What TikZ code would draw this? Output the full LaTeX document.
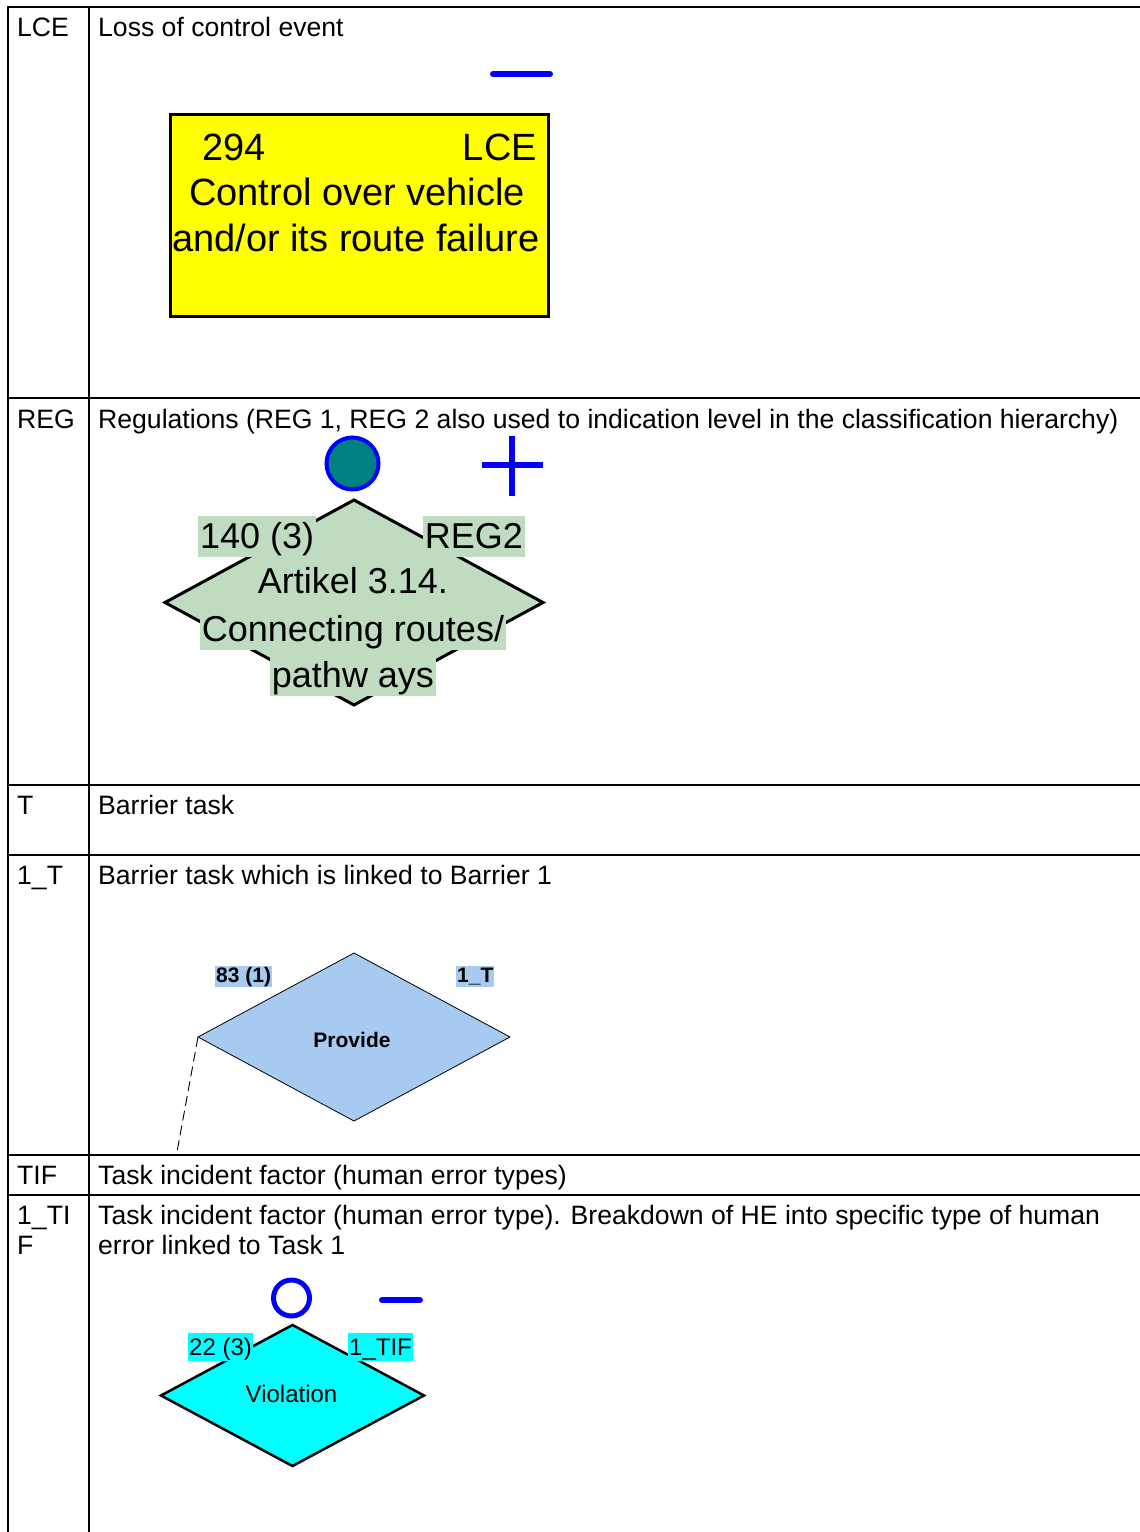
\documentclass[tikz,border=0pt]{standalone}
\usepackage{fontspec}
\setmainfont{Liberation Sans}
\usetikzlibrary{calc}

\begin{document}
\begin{tikzpicture}[x=1pt, y=-1pt,
  gridline/.style={line width=1.6pt},
  celltext/.style={font=\fontsize{26.6}{30}\selectfont, inner sep=0pt, anchor=base west},
  symline/.style={draw=symblue, line width=6pt, line cap=round},
  bigtext/.style={font=\fontsize{38}{42}\selectfont, inner sep=0pt, anchor=base},
  reglabel/.style={font=\fontsize{36}{40}\selectfont, fill=regreen, inner xsep=2pt, inner ysep=1pt, text height=31pt, text depth=8pt, anchor=base},
  tasklabel/.style={font=\fontsize{21}{24}\selectfont\bfseries, fill=taskblue, inner xsep=1pt, inner ysep=1pt, text height=15pt, text depth=4pt, anchor=base west},
  tiflabel/.style={font=\fontsize{24}{28}\selectfont, fill=tifcyan, inner xsep=1pt, inner ysep=1pt, text height=21pt, text depth=5pt, anchor=base west}]

%─────────────
% Colours
%─────────────
\definecolor{symblue}{rgb}{0,0,1}
\definecolor{lceyellow}{rgb}{1,1,0}
\definecolor{regteal}{rgb}{0,0.5,0.5}
\definecolor{regreen}{RGB}{192,220,192}
\definecolor{taskblue}{RGB}{166,202,240}
\definecolor{tifcyan}{rgb}{0,1,1}

\useasboundingbox (0,0) rectangle (1140,1532);

%───────────────────────────────────────────────────────
% Command to draw a diamond event symbol
% #1 = name, (#2,#3) = centre, #4/#5 = half width/height, #6 = look
%───────────────────────────────────────────────────────
\newcommand{\drawEventDiamond}[6]{%
  \coordinate (#1) at (#2,#3);
  \coordinate (#1-top) at (#2,{#3-#5});
  \coordinate (#1-right) at ({#2+#4},#3);
  \coordinate (#1-bottom) at (#2,{#3+#5});
  \coordinate (#1-left) at ({#2-#4},#3);
  \filldraw[#6] (#1-top) -- (#1-right) -- (#1-bottom) -- (#1-left) -- cycle;
}

%─────────────
% Table grid
%─────────────
\foreach \rowy in {7,398,785,855,1155,1195} {
  \draw[gridline] (7.2,\rowy) -- (1140,\rowy);
}
\draw[gridline] (8,7) -- (8,1532);
\draw[gridline] (89,7) -- (89,1532);

%─────────────
% Cell texts
%─────────────
\node[celltext] (keyLCE) at (17,36) {LCE};
\node[celltext] (descLCE) at (98,36) {Loss of control event};
\node[celltext] (keyREG) at (17,428) {REG};
\node[celltext] (descREG) at (98,428) {Regulations (REG 1, REG 2 also used to indication level in the classification hierarchy)};
\node[celltext] (keyT) at (17,814) {T};
\node[celltext] (descT) at (98,814) {Barrier task};
\node[celltext] (keyOneT) at (17,884) {1\_T};
\node[celltext] (descOneT) at (98,884) {Barrier task which is linked to Barrier 1};
\node[celltext] (keyTIF) at (17,1184) {TIF};
\node[celltext] (descTIF) at (98,1184) {Task incident factor (human error types)};
\node[celltext] (keyOneTIFa) at (17,1224) {1\_TI};
\node[celltext] (keyOneTIFb) at (17,1254) {F};
\node[celltext] (descOneTIFa) at (98,1224) {Task incident factor (human error type). Breakdown of HE into specific type of human};
\node[celltext] (descOneTIFb) at (98,1254) {error linked to Task 1};

%─────────────
% LCE: loss of control event
%─────────────
\draw[symline] (493,74) -- (550,74);
\node[draw, fill=lceyellow, line width=3pt, minimum width=378pt, minimum height=202pt] (lceBox) at (359.5,215.5) {};
\node[bigtext, anchor=base west] (lceNum) at (202,160) {294};
\node[bigtext, anchor=base east] (lceCode) at (537,160) {LCE};
\node[bigtext] (lceLineA) at (357,205) {Control over vehicle};
\node[bigtext] (lceLineB) at (356,251) {and/or its route failure};

%─────────────
% REG: regulation
%─────────────
\node[circle, fill=regteal, draw=symblue, line width=4pt, minimum size=52pt] (regDot) at (352.5,463.5) {};
\draw[symline, line width=5.5pt, line cap=butt] (482,465) -- (543,465);
\draw[symline, line width=5.5pt, line cap=butt] (512,436) -- (512,496);
\drawEventDiamond{regDia}{354}{602.5}{189}{102.5}{fill=regreen, draw=black, line width=3pt}
\node[reglabel, anchor=base west] (regNum) at (198,548) {140 (3)};
\node[reglabel, anchor=base east] (regCode) at (525,548) {REG2};
\node[reglabel] (regLineA) at (353,593) {Artikel 3.14.};
\node[reglabel] (regLineB) at (353,641) {Connecting routes/};
\node[reglabel] (regLineC) at (353,687) {pathw ays};

%─────────────
% 1_T: barrier task
%─────────────
\drawEventDiamond{taskDia}{354}{1037}{156}{84}{fill=taskblue, draw=black, line width=0.8pt}
\node[tasklabel] (taskNum) at (215,982) {83 (1)};
\node[tasklabel] (taskCode) at (456,982) {1\_T};
\node[font=\fontsize{21}{24}\selectfont\bfseries, inner sep=0pt, anchor=base] (taskName) at (352,1047) {Provide};
\coordinate (taskTail) at (177,1152);
\draw[line width=0.9pt, dash pattern=on 10pt off 5pt] (taskDia-left) -- (taskTail);

%─────────────
% 1_TIF: task incident factor
%─────────────
\node[circle, draw=symblue, line width=5pt, minimum size=36pt] (tifRing) at (291.5,1298) {};
\draw[symline] (382,1300) -- (420,1300);
\drawEventDiamond{tifDia}{292.5}{1395.5}{131.5}{70.5}{fill=tifcyan, draw=black, line width=2.5pt}
\node[tiflabel] (tifNum) at (188,1355) {22 (3)};
\node[tiflabel] (tifCode) at (348,1355) {1\_TIF};
\node[font=\fontsize{24}{28}\selectfont, inner sep=0pt, anchor=base] (tifName) at (291.5,1402) {Violation};

\end{tikzpicture}
\end{document}
